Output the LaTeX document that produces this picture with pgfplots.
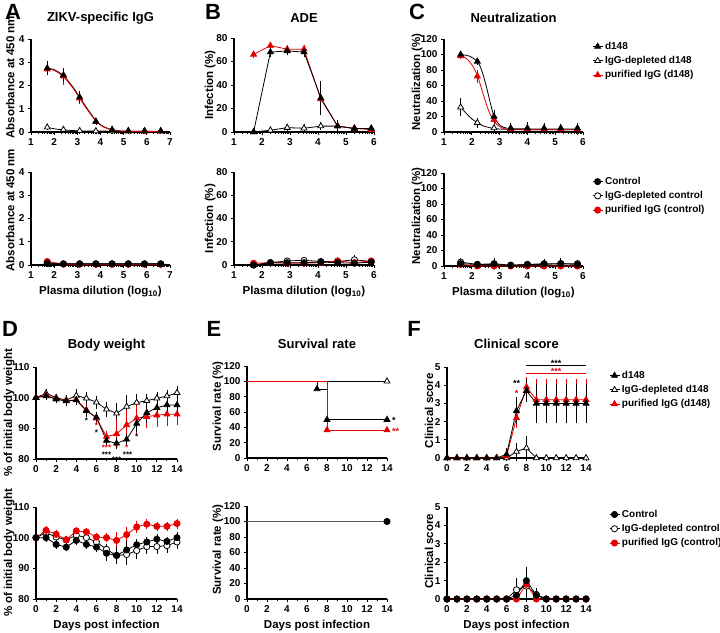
\documentclass[border=0pt]{standalone}
\usepackage{fontspec}
\setmainfont{Liberation Sans}
\usepackage{pgfplots}
\pgfplotsset{compat=1.18}
\definecolor{gpred}{RGB}{232,0,0}
\newcommand{\stf}{\fontsize{9}{9}\selectfont\bfseries}
\newcommand{\tkf}{\fontsize{10}{12}\selectfont\bfseries}
\newcommand{\lbf}{\fontsize{11.5}{13}\selectfont\bfseries}
\tikzset{st/.style={font=\stf, inner sep=0pt}, sts/.style={font=\fontsize{8}{8}\selectfont\bfseries, inner sep=0pt}}
\pgfplotsset{
 gp/.style={
  scale only axis, anchor=south west,
  axis lines=left, axis line style={-, line width=1.1pt},
  enlargelimits=false, clip=false,
  tick align=outside, major tick length=3pt, minor tick length=1.8pt,
  every tick/.style={black, line width=0.9pt},
  every tick label/.append style={font=\tkf},
  xticklabel style={font=\tkf}, yticklabel style={font=\tkf},
  /pgf/number format/assume math mode=true,
  legend cell align=left,
  legend style={draw=none, fill=none, font=\tkf, anchor=north west, row sep=1.5pt, inner sep=0pt},
  legend image code/.code={\draw[mark repeat=2,mark phase=2,##1] plot coordinates {(0pt,0pt) (5pt,0pt) (10pt,0pt)};},
 },
 ttl/.style={every axis title/.style={at={(axis description cs:0.5,#1)},anchor=center,font=\fontsize{13}{15}\selectfont\bfseries}},
 yl/.style 2 args={every axis y label/.style={at={(axis description cs:#1,#2)},rotate=90,anchor=center,font=\lbf}},
 xl/.style={every axis x label/.style={at={(axis description cs:0.5,#1)},anchor=center,font=\lbf}},
 lgA/.style={minor xtick={1.301,1.477,1.602,1.699,1.778,1.845,1.903,1.954,2.301,2.477,2.602,2.699,2.778,2.845,2.903,2.954,3.301,3.477,3.602,3.699,3.778,3.845,3.903,3.954,4.301,4.477,4.602,4.699,4.778,4.845,4.903,4.954,5.301,5.477,5.602,5.699,5.778,5.845,5.903,5.954,6.301,6.477,6.602,6.699,6.778,6.845,6.903,6.954}},
 lgB/.style={minor xtick={1.301,1.477,1.602,1.699,1.778,1.845,1.903,1.954,2.301,2.477,2.602,2.699,2.778,2.845,2.903,2.954,3.301,3.477,3.602,3.699,3.778,3.845,3.903,3.954,4.301,4.477,4.602,4.699,4.778,4.845,4.903,4.954,5.301,5.477,5.602,5.699,5.778,5.845,5.903,5.954}},
 lw/.style={line width=0.8pt},
 blkT/.style={black, lw, mark=triangle*, mark size=3.4pt, mark options={fill=black, solid}},
 opnT/.style={black, lw, mark=triangle*, mark size=3.4pt, mark options={fill=white, solid}},
 redT/.style={gpred, lw, mark=triangle*, mark size=3.4pt, mark options={fill=gpred, solid}},
 blkC/.style={black, lw, mark=*, mark size=3.1pt, mark options={fill=black, solid}},
 opnC/.style={black, lw, mark=*, mark size=3.1pt, mark options={fill=white, solid}},
 redC/.style={gpred, lw, mark=*, mark size=3.1pt, mark options={fill=gpred, solid}},
 eb/.style={error bars/y dir=both, error bars/y explicit, error bars/error bar style={line width=0.7pt}, error bars/error mark options={mark size=2.6pt, line width=0.7pt}},
}
\begin{document}
\begin{tikzpicture}
\path[use as bounding box] (0pt,0pt) rectangle (720pt,-632pt);
\node[font=\fontsize{22}{24}\selectfont\bfseries] at (13pt,-12pt) {A};
\node[font=\fontsize{22}{24}\selectfont\bfseries] at (213pt,-12pt) {B};
\node[font=\fontsize{22}{24}\selectfont\bfseries] at (417pt,-12pt) {C};
\node[font=\fontsize{22}{24}\selectfont\bfseries] at (10pt,-329pt) {D};
\node[font=\fontsize{22}{24}\selectfont\bfseries] at (214pt,-329pt) {E};
\node[font=\fontsize{22}{24}\selectfont\bfseries] at (414pt,-329pt) {F};

% ---------- A top
\begin{axis}[gp, lgA, at={(31pt,-132pt)}, width=139pt, height=93pt,
 xmin=1,xmax=7,ymin=0,ymax=4, xtick={1,...,7}, ytick={0,...,4},
 title={ZIKV-specific IgG}, ttl=1.226, ylabel={Absorbance at 450 nm}, yl={-0.15}{0.59}]
\addplot[black, lw, smooth] coordinates {(1.7,0.2)(2.0,0.14)(2.4,0.09)(3.1,0.05)(4.0,0.04)(5.0,0.03)(6.6,0.03)};
\addplot[black, lw, smooth] coordinates {(1.7,2.74)(2.0,2.68)(2.4,2.42)(2.8,1.95)(3.1,1.5)(3.4,1.05)(3.8,0.5)(4.1,0.25)(4.5,0.1)(5.0,0.04)(6.6,0.02)};
\addplot[gpred, lw, smooth] coordinates {(1.7,2.71)(2.0,2.65)(2.4,2.38)(2.8,1.9)(3.1,1.45)(3.4,1.0)(3.8,0.47)(4.1,0.23)(4.5,0.09)(5.0,0.03)(6.6,0.02)};
\addplot[opnT, only marks, eb] coordinates {(1.7,0.2)+-(0,0.02) (2.4,0.1)+-(0,0.01) (3.1,0.05)+-(0,0.01) (3.8,0.04)+-(0,0.01) (4.5,0.04)+-(0,0.01) (5.2,0.03)+-(0,0.01) (5.9,0.03)+-(0,0.01) (6.6,0.03)+-(0,0.01)};
\addplot[redT, only marks, eb] coordinates {(1.7,2.7)+-(0,0.15) (2.4,2.4)+-(0,0.25) (3.1,1.45)+-(0,0.12) (3.8,0.45)+-(0,0.05) (4.5,0.09)+-(0,0.02) (5.2,0.04)+-(0,0.01) (5.9,0.03)+-(0,0.01) (6.6,0.03)+-(0,0.01)};
\addplot[blkT, only marks, eb] coordinates {(1.7,2.75)+-(0,0.2) (2.4,2.45)+-(0,0.2) (3.1,1.5)+-(0,0.15) (3.8,0.45)+-(0,0.05) (4.5,0.1)+-(0,0.03) (5.2,0.05)+-(0,0.02) (5.9,0.05)+-(0,0.02) (6.6,0.05)+-(0,0.02)};
\end{axis}

% ---------- A bottom
\begin{axis}[gp, lgA, at={(31pt,-265pt)}, width=139pt, height=93pt,
 xmin=1,xmax=7,ymin=0,ymax=4, xtick={1,...,7}, ytick={0,...,4},
 ylabel={Absorbance at 450 nm}, yl={-0.15}{0.59},
 xlabel={Plasma dilution (log\textsubscript{10})}, xl=-0.29]
\addplot[opnC] coordinates {(1.7,0.06)(2.4,0.05)(3.1,0.05)(3.8,0.05)(4.5,0.05)(5.2,0.05)(5.9,0.05)(6.6,0.05)};
\addplot[redC] coordinates {(1.7,0.15)(2.4,0.04)(3.1,0.03)(3.8,0.03)(4.5,0.03)(5.2,0.03)(5.9,0.03)(6.6,0.03)};
\addplot[blkC] coordinates {(1.7,0.08)(2.4,0.05)(3.1,0.05)(3.8,0.05)(4.5,0.05)(5.2,0.05)(5.9,0.05)(6.6,0.05)};
\end{axis}

% ---------- B top
\begin{axis}[gp, lgB, at={(234pt,-132pt)}, width=140pt, height=94pt,
 xmin=1,xmax=6,ymin=0,ymax=80, xtick={1,...,6}, ytick={0,20,...,80},
 title={ADE}, ttl=1.215, ylabel={Infection (\%)}, yl={-0.171}{0.5}]
\addplot[opnT, eb] coordinates {(1.7,0) (2.3,1.5)+-(0,0.5) (2.9,3.7)+-(0,1) (3.5,3.2)+-(0,1) (4.1,5)+-(0,1) (4.7,5)+-(0,1) (5.3,3)+-(0,1) (5.9,3)+-(0,1)};
\addplot[redT, eb] coordinates {(1.7,66)+-(0,1) (2.3,73.5)+-(0,1) (2.9,70.5)+-(0,1) (3.5,70.5)+-(0,1.5) (4.1,28)+-(0,8) (4.7,5)+-(0,1) (5.3,3)+-(0,1) (5.9,2)+-(0,1)};
\addplot[blkT, eb] coordinates {(1.7,0) (2.3,68)+-(0,2) (2.9,69)+-(0,1.5) (3.5,68)+-(0,2) (4.1,29)+-(0,12) (4.7,5)+-(0,3) (5.3,3)+-(0,1) (5.9,3)+-(0,1)};
\end{axis}

% ---------- B bottom
\begin{axis}[gp, lgB, at={(234pt,-265pt)}, width=140pt, height=93pt,
 xmin=1,xmax=6,ymin=0,ymax=80, xtick={1,...,6}, ytick={0,20,...,80},
 ylabel={Infection (\%)}, yl={-0.171}{0.5},
 xlabel={Plasma dilution (log\textsubscript{10})}, xl=-0.29]
\addplot[opnC, eb] coordinates {(1.7,0) (2.3,2) (2.9,3.5) (3.5,4) (4.1,3) (4.7,3) (5.3,4.5)+-(0,1.5) (5.9,3)};
\addplot[redC, eb] coordinates {(1.7,1.5) (2.3,2) (2.9,1.5) (3.5,1.5) (4.1,2) (4.7,3.5)+-(0,1) (5.3,2) (5.9,3.5)};
\addplot[blkC, eb] coordinates {(1.7,0) (2.3,2) (2.9,2) (3.5,2) (4.1,2.5) (4.7,2) (5.3,1.5) (5.9,2.5)+-(0,1)};
\end{axis}

% ---------- C top
\begin{axis}[gp, lgB, at={(444pt,-132pt)}, width=139pt, height=93pt,
 xmin=1,xmax=6,ymin=0,ymax=120, xtick={1,...,6}, ytick={0,20,...,120},
 title={Neutralization}, ttl=1.226, ylabel={Neutralization (\%)}, yl={-0.194}{0.54},
 legend style={at={(axis description cs:1.065,0.989)}}]
\addplot[black, lw, smooth, forget plot] coordinates {(1.6,32)(1.8,24)(2.0,17)(2.2,12)(2.4,8)(2.6,6)(2.8,4.5)(3.2,3.5)(4.0,3)(5.8,3)};
\addplot[black, lw, smooth, forget plot] coordinates {(1.6,100)(1.9,98)(2.2,91)(2.35,80)(2.5,62)(2.65,40)(2.8,20)(3.0,9)(3.2,5.5)(3.4,4.5)(4.0,4)(5.8,4)};
\addplot[gpred, lw, smooth, forget plot] coordinates {(1.6,98)(1.8,95)(2.0,87)(2.2,73)(2.4,50)(2.6,28)(2.8,14)(3.0,7)(3.2,4)(3.4,3)(4.0,3)(5.8,3)};
\addplot[opnT, only marks, eb, forget plot] coordinates {(1.6,32)+-(0,8) (2.2,12)+-(0,3) (2.8,5)+-(0,1) (3.4,3)+-(0,1) (4.0,3)+-(0,1) (4.6,3)+-(0,1) (5.2,3)+-(0,1) (5.8,3)+-(0,1)};
\addplot[redT, only marks, eb, forget plot] coordinates {(1.6,98)+-(0,1) (2.2,72)+-(0,5) (2.8,16)+-(0,4) (3.4,4)+-(0,2) (4.0,4)+-(0,2) (4.6,4)+-(0,2) (5.2,4)+-(0,2) (5.8,4)+-(0,4)};
\addplot[blkT, only marks, eb, forget plot] coordinates {(1.6,100)+-(0,1) (2.2,91)+-(0,1) (2.8,20)+-(0,5) (3.4,5)+-(0,3) (4.0,5)+-(0,4) (4.6,5)+-(0,3) (5.2,5)+-(0,2) (5.8,5)+-(0,3)};
\addlegendimage{blkT}\addlegendentry{d148}
\addlegendimage{opnT}\addlegendentry{IgG-depleted d148}
\addlegendimage{redT}\addlegendentry{purified IgG (d148)}
\end{axis}

% ---------- C bottom
\begin{axis}[gp, lgB, at={(444pt,-266pt)}, width=139pt, height=93pt,
 xmin=1,xmax=6,ymin=0,ymax=120, xtick={1,...,6}, ytick={0,20,...,120},
 ylabel={Neutralization (\%)}, yl={-0.194}{0.54},
 xlabel={Plasma dilution (log\textsubscript{10})}, xl=-0.29,
 legend style={at={(axis description cs:1.065,0.978)}}]
\addplot[opnC, eb, forget plot] coordinates {(1.6,5)+-(0,2) (2.2,2) (2.8,2) (3.4,1) (4.0,2) (4.6,2) (5.2,3) (5.8,3)};
\addplot[redC, eb, forget plot] coordinates {(1.6,2) (2.2,0) (2.8,0) (3.4,0) (4.0,0) (4.6,0) (5.2,0) (5.8,0)};
\addplot[blkC, eb, forget plot] coordinates {(1.6,3)+-(0,1) (2.2,2)+-(0,1) (2.8,3)+-(0,4) (3.4,1)+-(0,1) (4.0,2)+-(0,1) (4.6,3)+-(0,3) (5.2,3)+-(0,4) (5.8,2)+-(0,3)};
\addlegendimage{blkC}\addlegendentry{Control}
\addlegendimage{opnC}\addlegendentry{IgG-depleted control}
\addlegendimage{redC}\addlegendentry{purified IgG (control)}
\end{axis}

% ---------- D top
\begin{axis}[gp, at={(36pt,-459pt)}, width=141pt, height=92pt,
 xmin=0,xmax=14,ymin=80,ymax=110, xtick={0,2,...,14}, minor xtick={1,3,...,13}, ytick={80,90,100,110},
 title={Body weight}, ttl=1.239, ylabel={\% of initial body weight}, yl={-0.19}{0.5}]
\addplot[opnT, eb] coordinates {(0,100) (1,101.4)+-(0,0.5) (2,100)+-(0,0.5) (3,99.2)+-(0,0.7) (4,100.7)+-(0,1.2) (5,99.8)+-(0,1.3) (6,98.5)+-(0,1.3) (7,96.2)+-(0,1.5) (8,94.9)+-(0,2.5) (9,97.1)+-(0,2.8) (10,98.4)+-(0,2) (11,99)+-(0,1.5) (12,99.8)+-(0,1.2) (13,100.5)+-(0,1.2) (14,101.6)+-(0,1.5)};
\addplot[redT, eb] coordinates {(0,100) (1,100.8)+-(0,0.5) (2,99.6)+-(0,0.5) (3,99)+-(0,0.7) (4,99.3)+-(0,0.7) (5,96)+-(0,1) (6,93.3)+-(0,1) (7,87.3)+-(0,1) (8,88.2)+-(0,4) (9,91.1)+-(0,4) (10,93.3)+-(0,4.5) (11,93.8)+-(0,3) (12,94.3)+-(0,3) (13,94.6)+-(0,3) (14,94.6)+-(0,2.5)};
\addplot[blkT, eb] coordinates {(0,100) (1,100.5)+-(0,0.5) (2,99.5)+-(0,0.5) (3,98.9)+-(0,0.7) (4,99.2)+-(0,0.7) (5,95.7)+-(0,1) (6,93.6)+-(0,0.8) (7,86)+-(0,1) (8,85.1)+-(0,1) (9,86.4)+-(0,1) (10,91.6)+-(0,2) (11,95.1)+-(0,2.5) (12,96.7)+-(0,2.5) (13,97.6)+-(0,2) (14,97.6)+-(0,2)};
\node[sts] at (axis cs:5,92.4) {*};
\node[sts, gpred] at (axis cs:6,91.0) {*};
\node[sts] at (axis cs:6,88.4) {*};
\node[sts, gpred] at (axis cs:7,83.6) {***};
\node[sts] at (axis cs:7,81.3) {***};
\node[sts, gpred] at (axis cs:8,83.6) {*};
\node[sts] at (axis cs:8,79.6) {***};
\node[sts, gpred] at (axis cs:9,83.6) {*};
\node[sts] at (axis cs:9.1,81.3) {***};
\node[sts] at (axis cs:10,87.4) {*};
\end{axis}

% ---------- D bottom
\begin{axis}[gp, at={(36pt,-599pt)}, width=141pt, height=92pt,
 xmin=0,xmax=14,ymin=80,ymax=110, xtick={0,2,...,14}, minor xtick={1,3,...,13}, ytick={80,90,100,110},
 ylabel={\% of initial body weight}, yl={-0.19}{0.5},
 xlabel={Days post infection}, xl=-0.283]
\addplot[opnC, eb] coordinates {(0,100) (1,101.6)+-(0,0.5) (2,100.2)+-(0,0.5) (3,99.3)+-(0,0.5) (4,100.8)+-(0,0.5) (5,100)+-(0,0.5) (6,98.6)+-(0,0.7) (7,96.2)+-(0,1) (8,94.2)+-(0,2) (9,94.5)+-(0,2.5) (10,95.8)+-(0,2) (11,97.1)+-(0,1.5) (12,97.1)+-(0,1.5) (13,97.4)+-(0,1.5) (14,98.6)+-(0,1.5)};
\addplot[redC, eb] coordinates {(0,100) (1,102.4)+-(0,0.7) (2,101.1)+-(0,0.5) (3,99.3)+-(0,0.5) (4,102.2)+-(0,0.5) (5,101.9)+-(0,0.5) (6,100.2)+-(0,0.5) (7,100)+-(0,0.7) (8,99.1)+-(0,2) (9,101)+-(0,1.5) (10,103.5)+-(0,1) (11,104.4)+-(0,0.7) (12,103.7)+-(0,0.7) (13,103.7)+-(0,0.7) (14,104.6)+-(0,0.8)};
\addplot[blkC, eb] coordinates {(0,100) (1,100)+-(0,0.5) (2,97.8)+-(0,0.5) (3,96.9)+-(0,0.5) (4,99.1)+-(0,0.5) (5,97.8)+-(0,0.5) (6,96.9)+-(0,0.7) (7,94.9)+-(0,1.5) (8,94.2)+-(0,2) (9,96)+-(0,2) (10,97.7)+-(0,1) (11,98.6)+-(0,0.8) (12,99.5)+-(0,0.8) (13,98.8)+-(0,0.5) (14,100)+-(0,1)};
\end{axis}

% ---------- E top
\begin{axis}[gp, at={(247pt,-458pt)}, width=140pt, height=92pt,
 xmin=0,xmax=14,ymin=0,ymax=120, xtick={0,2,...,14}, minor xtick={1,3,...,13}, ytick={0,20,...,120},
 title={Survival rate}, ttl=1.239, ylabel={Survival rate (\%)}, yl={-0.207}{0.56}]
\addplot[opnT, const plot, mark indices={2}] coordinates {(0,100)(14,100)};
\addplot[blkT, const plot, mark indices={2,3,4}] coordinates {(0,100)(7,90)(8,50)(14,50)};
\addplot[redT, const plot, mark indices={2,3}] coordinates {(0,100)(8,36.4)(14,36.4)};
\node[st, anchor=west] at (axis cs:14.5,48.5) {*};
\node[st, anchor=west, gpred] at (axis cs:14.5,34.5) {**};
\end{axis}

% ---------- E bottom
\begin{axis}[gp, at={(247pt,-599pt)}, width=140pt, height=93pt,
 xmin=0,xmax=14,ymin=0,ymax=120, xtick={0,2,...,14}, minor xtick={1,3,...,13}, ytick={0,20,...,120},
 ylabel={Survival rate (\%)}, yl={-0.207}{0.53},
 xlabel={Days post infection}, xl=-0.28]
\addplot[black!65, line width=1.6pt] coordinates {(0,100)(14,100)};
\addplot[blkC, only marks] coordinates {(14,100)};
\end{axis}

% ---------- F top
\begin{axis}[gp, at={(447pt,-458pt)}, width=139pt, height=91pt,
 xmin=0,xmax=14,ymin=0,ymax=5, xtick={0,2,...,14}, minor xtick={1,3,...,13}, ytick={0,...,5},
 title={Clinical score}, ttl=1.253, ylabel={Clinical score}, yl={-0.129}{0.52},
 legend style={at={(axis description cs:1.165,0.978)}}]
\addplot[opnT, eb, forget plot] coordinates {(0,0)(1,0)(2,0)(3,0)(4,0)(5,0)(6,0) (7,0.35)+-(0,0.35) (8,0.55)+-(0,0.5) (9,0)(10,0)(11,0)(12,0)(13,0)(14,0)};
\addplot[redT, eb, forget plot] coordinates {(0,0)(1,0)(2,0)(3,0)(4,0)(5,0) (6,0.1)+-(0,0.1) (7,2.2)+-(0,0.4) (8,3.9)+-(0,0.4) (9,3.2)+-(0,1.0) (10,3.2)+-(0,1.0) (11,3.2)+-(0,1.0) (12,3.2)+-(0,1.0) (13,3.2)+-(0,1.0) (14,3.2)+-(0,1.0)};
\addplot[blkT, eb, forget plot] coordinates {(0,0)(1,0)(2,0)(3,0)(4,0)(5,0) (6,0.2)+-(0,0.2) (7,2.6)+-(0,0.6) (8,3.7)+-(0,0.5) (9,3.0)+-(0,0.95) (10,3.0)+-(0,0.95) (11,3.0)+-(0,0.95) (12,3.0)+-(0,0.95) (13,3.0)+-(0,0.95) (14,3.0)+-(0,0.95)};
\addplot[black, line width=0.6pt, forget plot] coordinates {(8,5.1)(14,5.1)};
\addplot[gpred, line width=0.6pt, forget plot] coordinates {(8,4.64)(14,4.64)};
\node[st] at (axis cs:11,5.22) {***};
\node[st, gpred] at (axis cs:11,4.76) {***};
\node[st] at (axis cs:7,4.1) {**};
\node[st, gpred] at (axis cs:7,3.55) {*};
\addlegendimage{blkT}\addlegendentry{d148}
\addlegendimage{opnT}\addlegendentry{IgG-depleted d148}
\addlegendimage{redT}\addlegendentry{purified IgG (d148)}
\end{axis}

% ---------- F bottom
\begin{axis}[gp, at={(447pt,-599pt)}, width=139pt, height=92pt,
 xmin=0,xmax=14,ymin=0,ymax=5, xtick={0,2,...,14}, minor xtick={1,3,...,13}, ytick={0,...,5},
 ylabel={Clinical score}, yl={-0.129}{0.52},
 xlabel={Days post infection}, xl=-0.283,
 legend style={at={(axis description cs:1.165,0.99)}}]
\addplot[opnC, eb, forget plot] coordinates {(0,0)(1,0)(2,0)(3,0)(4,0)(5,0)(6,0) (7,0.5)+-(0,0.5) (8,0.7)+-(0,0.5) (9,0.25)+-(0,0.2) (10,0)(11,0)(12,0)(13,0)(14,0)};
\addplot[redC, eb, forget plot] coordinates {(0,0)(1,0)(2,0)(3,0)(4,0)(5,0)(6,0) (7,0) (8,0.8)+-(0,0.4) (9,0) (10,0)(11,0)(12,0)(13,0)(14,0)};
\addplot[blkC, eb, forget plot] coordinates {(0,0)(1,0)(2,0)(3,0)(4,0)(5,0)(6,0) (7,0.2)+-(0,0.2) (8,1.0)+-(0,0.6) (9,0.2)+-(0,0.2) (10,0)(11,0)(12,0)(13,0)(14,0)};
\addlegendimage{blkC}\addlegendentry{Control}
\addlegendimage{opnC}\addlegendentry{IgG-depleted control}
\addlegendimage{redC}\addlegendentry{purified IgG (control)}
\end{axis}
\end{tikzpicture}
\end{document}
